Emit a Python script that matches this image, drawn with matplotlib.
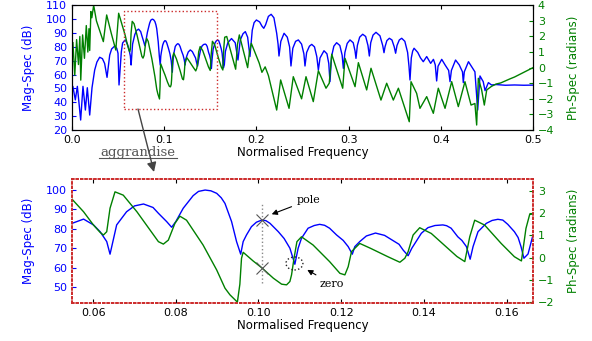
import matplotlib
matplotlib.use('Agg')
import matplotlib.pyplot as plt
from matplotlib.patches import Rectangle, Ellipse
from matplotlib.lines import Line2D

# magnitude spectrum: (normalised freq, dB)
mag_points = [
    (0.001, 51.3), (0.0036, 41.7), (0.0058, 51.5), (0.0094, 27.2), (0.0119, 51.5),
    (0.0145, 34.4), (0.0166, 50.5), (0.0192, 30.8), (0.0217, 50.5), (0.0246, 63.3),
    (0.027, 69.0), (0.030, 72.5), (0.033, 71.5), (0.0354, 68.0), (0.038, 58.0),
    (0.0409, 74.1), (0.043, 78.5), (0.0463, 80.6), (0.0485, 79.0), (0.0499, 75.4),
    (0.051, 52.5), (0.0535, 76.5), (0.0549, 82.8), (0.0577, 85.0), (0.0601, 82.0),
    (0.0617, 78.5), (0.0633, 73.4), (0.0641, 66.9), (0.0648, 73.4), (0.0657, 82.0),
    (0.0681, 88.8), (0.0700, 91.8), (0.0722, 92.8), (0.0745, 91.0), (0.0758, 88.0),
    (0.0778, 83.7), (0.079, 80.8), (0.080, 83.7), (0.0818, 90.6), (0.0842, 97.1),
    (0.0855, 99.3), (0.0871, 100.0), (0.0885, 99.6), (0.0899, 98.3), (0.091, 96.0),
    (0.0919, 93.1), (0.0935, 83.7), (0.0947, 73.4), (0.0957, 66.9), (0.0963, 73.4),
    (0.0971, 76.8), (0.0983, 81.1), (0.0995, 83.4), (0.1008, 84.5), (0.1018, 84.2),
    (0.1028, 82.8), (0.1048, 78.5), (0.1062, 75.0), (0.1076, 70.0), (0.1088, 61.7),
    (0.1096, 70.0), (0.1104, 75.1), (0.112, 80.3), (0.1135, 81.7), (0.1148, 82.3),
    (0.116, 81.8), (0.1172, 80.3), (0.1189, 76.8), (0.1205, 74.0), (0.1217, 70.8),
    (0.1227, 66.9), (0.1233, 70.8), (0.1245, 73.4), (0.1261, 76.3), (0.1283, 77.8),
    (0.1305, 76.6), (0.1329, 73.4), (0.134, 72.0), (0.135, 69.0), (0.1362, 66.1),
    (0.1371, 70.0), (0.1394, 77.7), (0.141, 80.6), (0.1427, 81.7), (0.1446, 82.0),
    (0.1455, 81.6), (0.1466, 80.3), (0.1482, 75.9), (0.1492, 74.0), (0.1503, 70.8),
    (0.1512, 64.3), (0.1519, 70.8), (0.1531, 78.5), (0.1551, 82.8), (0.1565, 84.3),
    (0.1579, 84.9), (0.1591, 84.5), (0.1603, 82.3), (0.1619, 78.5), (0.1628, 75.5),
    (0.1635, 70.8), (0.1642, 64.8), (0.1652, 67.0), (0.1664, 76.8), (0.169, 83.0),
    (0.173, 86.0), (0.177, 83.0), (0.180, 70.5), (0.1825, 85.0), (0.1855, 89.5),
    (0.188, 91.0), (0.1905, 87.0), (0.193, 73.0), (0.1955, 92.0), (0.1975, 97.5),
    (0.200, 99.4), (0.2035, 98.0), (0.206, 95.0), (0.208, 93.4), (0.210, 96.0),
    (0.213, 102.0), (0.216, 103.5), (0.219, 101.0), (0.222, 89.8), (0.2235, 82.0),
    (0.2245, 73.4), (0.2265, 84.0), (0.230, 89.8), (0.2335, 87.0), (0.236, 80.0),
    (0.2375, 66.2), (0.2395, 79.0), (0.2425, 84.0), (0.2455, 85.0), (0.249, 82.0),
    (0.2515, 75.0), (0.2527, 66.2), (0.2545, 76.0), (0.2575, 80.5), (0.260, 81.8),
    (0.263, 80.0), (0.2655, 73.0), (0.2672, 63.3), (0.269, 72.0), (0.2733, 77.2),
    (0.2765, 75.0), (0.2785, 68.0), (0.2798, 54.9), (0.2815, 73.0), (0.284, 80.5),
    (0.287, 83.0), (0.2905, 81.0), (0.293, 74.0), (0.2943, 64.5), (0.296, 76.0),
    (0.2985, 82.5), (0.3015, 85.0), (0.305, 83.0), (0.307, 77.0), (0.308, 71.7),
    (0.3095, 81.0), (0.312, 87.0), (0.3153, 89.1), (0.3185, 87.5), (0.321, 81.0),
    (0.3225, 73.4), (0.324, 83.0), (0.3265, 88.5), (0.3297, 90.5), (0.334, 88.0),
    (0.337, 81.0), (0.3384, 75.8), (0.3395, 80.0), (0.3415, 84.5), (0.3442, 86.2),
    (0.347, 85.0), (0.3495, 80.0), (0.351, 75.4), (0.3525, 81.0), (0.355, 85.0),
    (0.3576, 86.2), (0.361, 84.0), (0.364, 76.0), (0.3655, 66.0), (0.3666, 56.1),
    (0.368, 72.0), (0.3695, 77.0), (0.371, 79.0), (0.375, 76.0), (0.378, 72.0),
    (0.381, 69.3), (0.3847, 73.0), (0.389, 68.1), (0.392, 71.0), (0.394, 67.0),
    (0.3955, 55.4), (0.397, 66.0), (0.401, 71.0), (0.4047, 66.9), (0.4085, 63.0),
    (0.41, 54.9), (0.4115, 63.0), (0.416, 70.5), (0.420, 67.0), (0.4235, 62.0),
    (0.4244, 54.2), (0.4255, 62.0), (0.43, 69.3), (0.4346, 64.5), (0.437, 62.0),
    (0.44, 34.4), (0.4425, 59.0), (0.446, 54.9), (0.448, 48.4), (0.4516, 54.2),
    (0.455, 52.5), (0.46, 52.8), (0.47, 52.3), (0.48, 52.5), (0.49, 52.3),
    (0.5, 52.4),
]

# phase spectrum: (normalised freq, radians)
phase_points = [
    (0.001, 1.6), (0.003, -0.5), (0.005, 1.8), (0.007, 0.2), (0.0085, 2.0),
    (0.0095, -0.8), (0.0115, 2.1), (0.0135, 0.6), (0.0155, 2.7), (0.0172, 1.0),
    (0.0184, 2.5), (0.0192, 1.1), (0.0205, 3.6), (0.0215, 3.2), (0.0235, 4.0),
    (0.0265, 3.0), (0.034, 1.67), (0.0376, 3.38), (0.0426, 2.2), (0.0475, 1.13),
    (0.0506, 3.49), (0.0549, 2.64), (0.0577, 2.07), (0.0601, 1.47), (0.0617, 1.14),
    (0.0625, 1.02), (0.0633, 1.17), (0.0641, 2.23), (0.0653, 2.97), (0.0673, 2.82),
    (0.0706, 2.07), (0.0738, 1.24), (0.0758, 0.72), (0.077, 0.61), (0.0782, 0.79),
    (0.0798, 1.55), (0.081, 1.87), (0.0826, 1.69), (0.0866, 0.57), (0.0899, -0.56),
    (0.0919, -1.38), (0.0931, -1.68), (0.0949, -2.01), (0.0955, -1.2), (0.0959, -0.03),
    (0.0963, 0.24), (0.0987, -0.15), (0.1008, -0.46), (0.1036, -0.93), (0.1056, -1.2),
    (0.1068, -1.23), (0.1076, -1.08), (0.108, -0.78), (0.1086, -0.03), (0.1093, 0.72),
    (0.1104, 0.94), (0.1132, 0.57), (0.1172, -0.18), (0.1197, -0.71), (0.1209, -0.78),
    (0.1217, -0.41), (0.1225, 0.27), (0.1245, 0.64), (0.1271, 0.42), (0.1293, 0.22),
    (0.1313, 0.04), (0.1342, -0.21), (0.1354, -0.03), (0.1362, 0.27), (0.1374, 1.02),
    (0.139, 1.35), (0.1418, 1.09), (0.1458, 0.42), (0.148, 0.05), (0.1499, -0.18),
    (0.1511, 0.94), (0.1523, 1.69), (0.1547, 1.47), (0.1587, 0.64), (0.1619, 0.04),
    (0.1636, -0.15), (0.1647, 1.32), (0.1656, 1.95), (0.1665, 1.97), (0.1678, 2.0),
    (0.1775, -0.1), (0.1795, 1.5), (0.1815, 2.1), (0.1905, 0.0), (0.1925, 1.0),
    (0.1945, 1.56), (0.203, 0.3), (0.206, -0.3), (0.2095, 0.05), (0.213, -0.5),
    (0.222, -2.72), (0.2263, -0.79), (0.2354, -2.61), (0.240, -0.58), (0.249, -2.0),
    (0.2538, -0.58), (0.2617, -2.18), (0.2672, -0.2), (0.2755, -1.32), (0.279, -1.0),
    (0.2817, 0.86), (0.2936, -1.32), (0.2961, 0.6), (0.307, -1.22), (0.3106, 0.32),
    (0.3196, -1.43), (0.3243, -0.04), (0.3351, -2.08), (0.3413, -1.0), (0.3485, -2.08),
    (0.354, -1.32), (0.3658, -3.47), (0.3677, -0.9), (0.3738, -1.65), (0.3774, -2.61),
    (0.3847, -1.86), (0.3919, -2.93), (0.3973, -1.32), (0.4046, -2.61), (0.4118, -0.9),
    (0.419, -2.5), (0.4262, -0.9), (0.4328, -2.4), (0.437, -2.3), (0.4389, -3.68),
    (0.4407, -0.68), (0.4443, -1.43), (0.4472, -2.4), (0.4498, -1.43), (0.455, -1.2),
    (0.46, -1.05), (0.465, -0.98), (0.47, -0.85), (0.475, -0.72), (0.48, -0.6),
    (0.49, -0.3), (0.5, 0.0),
]

top_xticks = [0.0, 0.1, 0.2, 0.3, 0.4, 0.5]
top_mag_ticks = [20, 30, 40, 50, 60, 70, 80, 90, 100, 110]
top_ph_ticks = [-4, -3, -2, -1, 0, 1, 2, 3, 4]
zoom_xticks = [0.06, 0.08, 0.10, 0.12, 0.14, 0.16]
zoom_mag_ticks = [50, 60, 70, 80, 90, 100]
zoom_ph_ticks = [-2, -1, 0, 1, 2, 3]

pole_f = 0.1008
pole_mag = 84.5
pole_ph = -0.46
zero_f = 0.1087
zero_mag = 62.1

mag_f = [p[0] for p in mag_points]
mag_db = [p[1] for p in mag_points]
ph_f = [p[0] for p in phase_points]
ph_rad = [p[1] for p in phase_points]

BLUE = 'b'
GREEN = 'g'
RED = '#cc2a2a'

W, H = 592, 341
fig = plt.figure(figsize=(W / 100, H / 100), dpi=100)


def px(x0, y0, x1, y1):
    # pixel box (origin top-left) -> figure fraction rect
    return [x0 / W, 1 - y1 / H, (x1 - x0) / W, (y1 - y0) / H]


def style(ax, ax2):
    ax.tick_params(axis='x', direction='in', top=True, labelsize=8, length=3)
    ax.tick_params(axis='y', direction='in', colors=BLUE, labelsize=8, length=3)
    ax2.tick_params(axis='y', direction='in', colors=GREEN, labelsize=8, length=3)
    ax.set_xlabel('Normalised Frequency', fontsize=8.5, labelpad=1)
    ax.set_ylabel('Mag-Spec (dB)', color=BLUE, fontsize=8.5, labelpad=8)
    ax2.set_ylabel('Ph-Spec (radians)', color=GREEN, fontsize=8.5, labelpad=9)


# overview panel
ax = fig.add_axes(px(72, 5.3, 533, 130))
ax2 = ax.twinx()
ax.plot(mag_f, mag_db, color=BLUE, lw=1.0)
ax2.plot(ph_f, ph_rad, color=GREEN, lw=1.0)
ax.set_xlim(0, 0.5)
ax.set_ylim(20, 110)
ax2.set_ylim(-4, 4)
ax.set_xticks(top_xticks)
ax.set_yticks(top_mag_ticks)
ax2.set_yticks(top_ph_ticks)
style(ax, ax2)
ax2.add_patch(Rectangle((0.0564, 35.1), 0.1006, 70.8, transform=ax.transData,
                        fill=False, edgecolor=RED, ls=':', lw=1.0, zorder=5))

# zoomed panel
bx = fig.add_axes(px(72, 179, 533, 303))
bx2 = bx.twinx()
bx.plot(mag_f, mag_db, color=BLUE, lw=1.0)
bx2.plot(ph_f, ph_rad, color=GREEN, lw=1.0)
bx.set_xlim(0.0549, 0.1664)
bx.set_ylim(41.7, 105.7)
bx2.set_ylim(-2.05, 3.55)
bx.set_xticks(zoom_xticks)
bx.set_yticks(zoom_mag_ticks)
bx2.set_yticks(zoom_ph_ticks)
style(bx, bx2)
for a in (bx, bx2):
    for sp in a.spines.values():
        sp.set_color(RED)
        sp.set_linestyle(':')
        sp.set_linewidth(1.2)

# pole / zero marks
bx2.plot([pole_f, pole_f], [52, 93.3], transform=bx.transData, color='#888888',
         ls=':', lw=1.0, zorder=4)
bx2.plot([pole_f], [pole_mag], transform=bx.transData, marker='x', ms=8,
         mew=0.8, color='#555555', ls='none', zorder=6)
bx2.plot([pole_f], [pole_ph], marker='x', ms=8, mew=0.8, color='#555555',
         ls='none', zorder=6)
bx2.add_patch(Ellipse((zero_f, zero_mag), 0.0041, 6.7, transform=bx.transData,
                      fill=False, edgecolor='#222222', ls=':', lw=1.0, zorder=6))
bx2.annotate('pole', xy=(0.1032, 87.5), xycoords=bx.transData,
             xytext=(0.1093, 94.8), textcoords=bx.transData,
             fontsize=8, family='DejaVu Serif', va='center', ha='left',
             arrowprops=dict(arrowstyle='-|>', color='black', lw=0.8,
                             mutation_scale=8, shrinkA=2, shrinkB=0))
bx2.annotate('zero', xy=(0.1118, 58.8), xycoords=bx.transData,
             xytext=(0.1148, 51.5), textcoords=bx.transData,
             fontsize=8, family='DejaVu Serif', va='center', ha='left',
             arrowprops=dict(arrowstyle='-|>', color='black', lw=0.8,
                             mutation_scale=8, shrinkA=2, shrinkB=0))

# link between the two panels
fig.text(138 / W, 1 - 152 / H, 'aggrandise', family='DejaVu Serif', fontsize=9.5,
         color='#555555', ha='center', va='center')
fig.add_artist(Line2D([99 / W, 177 / W], [1 - 158 / H, 1 - 158 / H],
                      color='#555555', lw=0.8))
fig.add_artist(plt.Annotation('', xy=(154 / W, 1 - 172 / H), xycoords='figure fraction',
                              xytext=(138 / W, 1 - 109 / H), textcoords='figure fraction',
                              arrowprops=dict(arrowstyle='-|>', color='#444444', lw=1.0,
                                              mutation_scale=14, shrinkA=0, shrinkB=0)))

fig.savefig('out.png', dpi=100)
